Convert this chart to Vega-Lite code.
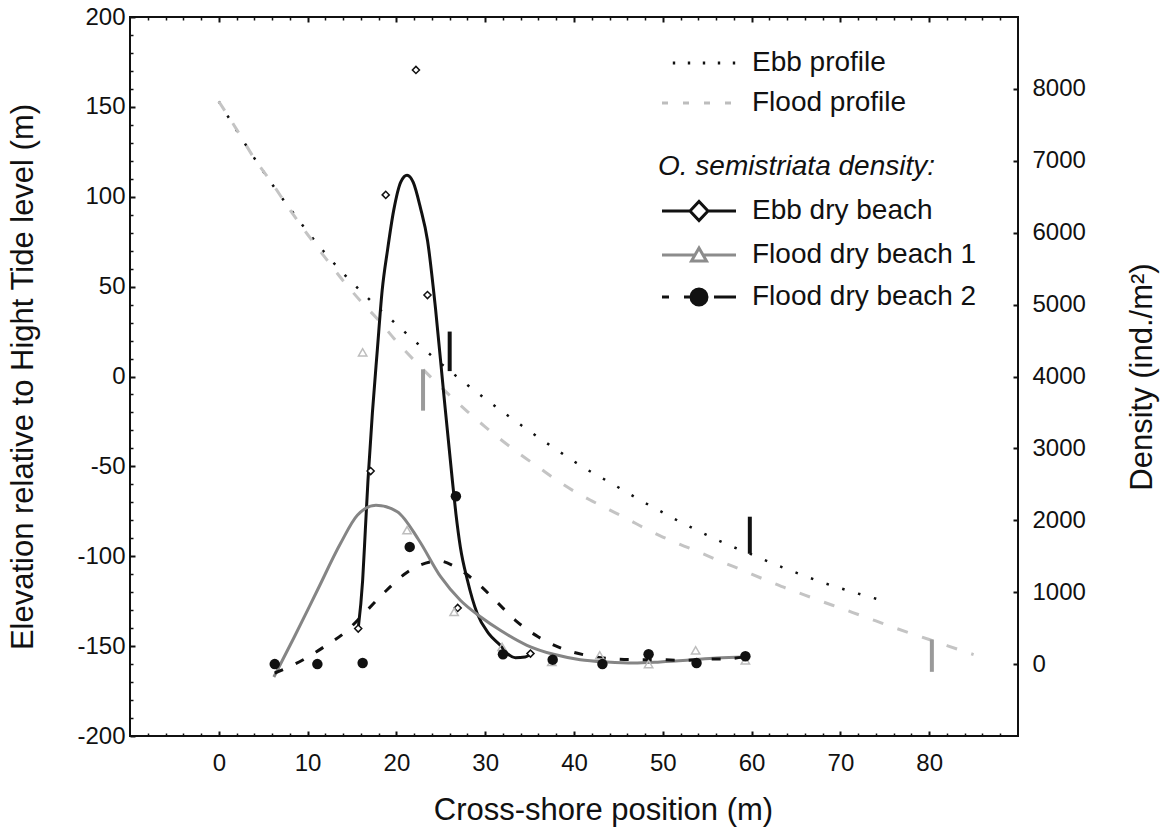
{
  "$schema": "https://vega.github.io/schema/vega-lite/v6.json",
  "width": 888,
  "height": 719,
  "autosize": {"type": "none"},
  "padding": {"left": 130, "top": 17, "right": 156, "bottom": 94},
  "background": "white",
  "config": {
    "font": "Liberation Sans",
    "view": {"stroke": "#111111", "strokeWidth": 2},
    "axis": {"grid": false, "domain": false, "tickColor": "#111111", "tickWidth": 2, "labelColor": "#111111", "titleColor": "#111111", "labelFont": "Liberation Sans", "titleFont": "Liberation Sans", "labelFontSize": 24, "titleFontSize": 31, "titleFontWeight": "normal"}
  },
  "datasets": {
    "ebbProfile": [
      {"x": 0, "e": 153}, {"x": 2, "e": 137}, {"x": 4, "e": 121.5}, {"x": 6, "e": 107}, {"x": 8, "e": 93.5}, {"x": 10, "e": 80.5}, {"x": 12, "e": 68.5}, {"x": 14, "e": 57.5}, {"x": 16, "e": 47.5}, {"x": 18, "e": 38}, {"x": 20, "e": 29}, {"x": 22, "e": 20}, {"x": 24, "e": 11.4}, {"x": 26, "e": 3.2}, {"x": 28, "e": -4.7}, {"x": 30, "e": -12.4}, {"x": 32, "e": -19.8}, {"x": 34, "e": -26.9}, {"x": 36, "e": -33.9}, {"x": 38, "e": -40.6}, {"x": 40, "e": -47.2}, {"x": 42, "e": -53.3}, {"x": 44, "e": -58.8}, {"x": 46, "e": -64.6}, {"x": 48, "e": -70.3}, {"x": 50, "e": -75.6}, {"x": 52, "e": -81}, {"x": 54, "e": -85.9}, {"x": 56, "e": -90.6}, {"x": 58, "e": -95}, {"x": 60, "e": -99}, {"x": 62, "e": -103.2}, {"x": 64, "e": -107.2}, {"x": 66, "e": -111}, {"x": 68, "e": -114.6}, {"x": 70, "e": -117.8}, {"x": 72, "e": -120.8}, {"x": 75, "e": -125}
    ],
    "floodProfile": [
      {"x": 0, "e": 153}, {"x": 2, "e": 137.5}, {"x": 4, "e": 121.3}, {"x": 6, "e": 107.5}, {"x": 8, "e": 92.8}, {"x": 10, "e": 79}, {"x": 12, "e": 66}, {"x": 14, "e": 53.3}, {"x": 16, "e": 41.8}, {"x": 18, "e": 31.3}, {"x": 20, "e": 19.6}, {"x": 22, "e": 9}, {"x": 24, "e": -1}, {"x": 26, "e": -10.5}, {"x": 28, "e": -19.5}, {"x": 30, "e": -28}, {"x": 32, "e": -36}, {"x": 34, "e": -43.5}, {"x": 36, "e": -50.5}, {"x": 38, "e": -57.5}, {"x": 40, "e": -63.8}, {"x": 42, "e": -69.2}, {"x": 44, "e": -74.2}, {"x": 46, "e": -79.2}, {"x": 48, "e": -84.5}, {"x": 50, "e": -89.3}, {"x": 52, "e": -93.5}, {"x": 54, "e": -97.5}, {"x": 56, "e": -101.8}, {"x": 58, "e": -105.8}, {"x": 60, "e": -110}, {"x": 62, "e": -114}, {"x": 64, "e": -118}, {"x": 66, "e": -121.6}, {"x": 68, "e": -125.3}, {"x": 70, "e": -128.8}, {"x": 72, "e": -132.4}, {"x": 74, "e": -136}, {"x": 76, "e": -139.6}, {"x": 78, "e": -143}, {"x": 80, "e": -146.3}, {"x": 82, "e": -149.7}, {"x": 85, "e": -154.7}
    ],
    "blackBars": [{"x": 26, "e1": 25, "e2": 3}, {"x": 59.8, "e1": -78, "e2": -98.6}],
    "grayBars": [{"x": 23, "e1": 4, "e2": -19}, {"x": 80.3, "e1": -146.3, "e2": -164.3}],
    "ebbCurve": [
      {"x": 15.7, "d": 494}, {"x": 16.2, "d": 1166}, {"x": 16.5, "d": 1862}, {"x": 16.8, "d": 2557}, {"x": 17.3, "d": 3500}, {"x": 17.85, "d": 4366}, {"x": 18.4, "d": 5200}, {"x": 19.0, "d": 5758}, {"x": 19.7, "d": 6314}, {"x": 20.5, "d": 6708}, {"x": 21.2, "d": 6800}, {"x": 21.9, "d": 6700}, {"x": 22.7, "d": 6350}, {"x": 23.5, "d": 5895}, {"x": 24.4, "d": 4950}, {"x": 25.3, "d": 3800}, {"x": 26.3, "d": 2557}, {"x": 26.7, "d": 2094}, {"x": 27.2, "d": 1630}, {"x": 28.0, "d": 1166}, {"x": 29.1, "d": 703}, {"x": 30.4, "d": 424}, {"x": 31.7, "d": 262}, {"x": 32.5, "d": 146}, {"x": 33.4, "d": 90}, {"x": 34.5, "d": 99}, {"x": 35.2, "d": 146}
    ],
    "flood1Curve": [
      {"x": 6.2, "d": -179}, {"x": 8.5, "d": 377}, {"x": 11.1, "d": 1027}, {"x": 13.7, "d": 1676}, {"x": 15.6, "d": 2070}, {"x": 17.7, "d": 2210}, {"x": 20.1, "d": 2120}, {"x": 22.5, "d": 1730}, {"x": 25.0, "d": 1212}, {"x": 27.2, "d": 888}, {"x": 29.5, "d": 655}, {"x": 31.7, "d": 470}, {"x": 34.7, "d": 262}, {"x": 37.7, "d": 136}, {"x": 40.7, "d": 62}, {"x": 43.7, "d": 30}, {"x": 46.7, "d": 15}, {"x": 49.7, "d": 30}, {"x": 52.7, "d": 53}, {"x": 56.1, "d": 85}, {"x": 59.3, "d": 99}
    ],
    "flood2Curve": [
      {"x": 6.3, "d": -124}, {"x": 9.4, "d": 53}, {"x": 12.0, "d": 252}, {"x": 14.4, "d": 461}, {"x": 16.7, "d": 749}, {"x": 18.9, "d": 1027}, {"x": 21.1, "d": 1268}, {"x": 23.8, "d": 1421}, {"x": 24.8, "d": 1435}, {"x": 26.5, "d": 1361}, {"x": 29.1, "d": 1129}, {"x": 31.2, "d": 878}, {"x": 33.4, "d": 609}, {"x": 36.0, "d": 377}, {"x": 38.7, "d": 216}, {"x": 41.4, "d": 122}, {"x": 44.1, "d": 76}, {"x": 46.7, "d": 62}, {"x": 49.5, "d": 62}, {"x": 52.2, "d": 53}, {"x": 54.8, "d": 67}, {"x": 57.4, "d": 76}, {"x": 59.3, "d": 100}
    ],
    "ebbPoints": [
      {"x": 15.7, "d": 494}, {"x": 17.1, "d": 2685}, {"x": 18.8, "d": 6526}, {"x": 22.2, "d": 8264}, {"x": 23.5, "d": 5133}, {"x": 26.9, "d": 781}, {"x": 35.1, "d": 146}
    ],
    "flood1Points": [
      {"x": 16.2, "d": 4337}, {"x": 21.2, "d": 1862}, {"x": 26.5, "d": 725}, {"x": 31.9, "d": 238}, {"x": 37.5, "d": 30}, {"x": 42.9, "d": 122}, {"x": 48.4, "d": 0}, {"x": 53.7, "d": 192}, {"x": 59.3, "d": 53}
    ],
    "flood2Points": [
      {"x": 6.3, "d": 0}, {"x": 11.1, "d": 0}, {"x": 16.2, "d": 15}, {"x": 21.5, "d": 1630}, {"x": 26.7, "d": 2335}, {"x": 32.0, "d": 136}, {"x": 37.6, "d": 62}, {"x": 43.2, "d": 0}, {"x": 48.4, "d": 136}, {"x": 53.8, "d": 15}, {"x": 59.3, "d": 109}
    ]
  },
  "layer": [
    {
      "data": {"name": "ebbProfile"},
      "mark": {"type": "line", "stroke": "#111111", "strokeWidth": 2.5, "strokeDash": [2.5, 14], "strokeCap": "butt", "interpolate": "monotone"},
      "encoding": {
        "x": {"field": "x", "type": "quantitative", "scale": {"domain": [-10, 90], "nice": false, "zero": false},
          "axis": {"orient": "bottom", "values": [0, 10, 20, 30, 40, 50, 60, 70, 80],
            "tickSize": -5, "labelExpr": "'' + datum.value",
            "labelPadding": 20, "labelOverlap": false, "labelFlush": false, "labelBound": false,
            "title": "Cross-shore position (m)", "titleX": 473, "titleY": 74, "titleAlign": "center", "titleBaseline": "middle"}},
        "y": {"field": "e", "type": "quantitative", "scale": {"domain": [-200, 200], "nice": false, "zero": false},
          "axis": {"orient": "left", "values": [-200, -150, -100, -50, 0, 50, 100, 150, 200],
            "tickSize": -5, "labelExpr": "'' + datum.value",
            "labelPadding": 10, "labelOverlap": false, "labelFlush": false, "labelBound": false,
            "title": "Elevation relative to Hight Tide level (m)", "titleX": -107, "titleY": 359.5, "titleAngle": 270, "titleAlign": "center", "titleBaseline": "middle"}}
      }
    },
    {
      "data": {"name": "floodProfile"},
      "mark": {"type": "line", "stroke": "#c4c4c4", "strokeWidth": 3, "strokeDash": [11, 15], "interpolate": "monotone"},
      "encoding": {
        "x": {"field": "x", "type": "quantitative", "scale": {"domain": [-10, 90], "nice": false, "zero": false},
          "axis": {"orient": "bottom", "values": [-8,-6,-4,-2,2,4,6,8,12,14,16,18,22,24,26,28,32,34,36,38,42,44,46,48,52,54,56,58,62,64,66,68,72,74,76,78,82,84,86,88],
            "tickSize": -3, "tickWidth": 1.5, "labels": false, "title": null}},
        "y": {"field": "e", "type": "quantitative", "scale": {"domain": [-200, 200], "nice": false, "zero": false},
          "axis": {"orient": "left", "values": [-190,-180,-170,-160,-140,-130,-120,-110,-90,-80,-70,-60,-40,-30,-20,-10,10,20,30,40,60,70,80,90,110,120,130,140,160,170,180,190],
            "tickSize": -3, "tickWidth": 1.5, "labels": false, "title": null}}
      }
    },
    {
      "data": {"name": "blackBars"},
      "mark": {"type": "rule", "stroke": "#111111", "strokeWidth": 4},
      "encoding": {
        "x": {"field": "x", "type": "quantitative", "scale": {"domain": [-10, 90], "nice": false, "zero": false}, "axis": null},
        "y": {"field": "e1", "type": "quantitative", "scale": {"domain": [-200, 200], "nice": false, "zero": false}, "axis": null},
        "y2": {"field": "e2"}
      }
    },
    {
      "data": {"name": "grayBars"},
      "mark": {"type": "rule", "stroke": "#9a9a9a", "strokeWidth": 4},
      "encoding": {
        "x": {"field": "x", "type": "quantitative", "scale": {"domain": [-10, 90], "nice": false, "zero": false}, "axis": null},
        "y": {"field": "e1", "type": "quantitative", "scale": {"domain": [-200, 200], "nice": false, "zero": false}, "axis": null},
        "y2": {"field": "e2"}
      }
    },
    {
      "data": {"name": "ebbCurve"},
      "mark": {"type": "line", "stroke": "#111111", "strokeWidth": 3, "interpolate": "monotone"},
      "encoding": {
        "x": {"field": "x", "type": "quantitative", "scale": {"domain": [-10, 90], "nice": false, "zero": false},
          "axis": {"orient": "top", "values": [0, 10, 20, 30, 40, 50, 60, 70, 80],
            "tickSize": -5, "labels": false, "title": null}},
        "y": {"field": "d", "type": "quantitative", "scale": {"domain": [-1000, 9000], "nice": false, "zero": false},
          "axis": {"orient": "right", "values": [0, 1000, 2000, 3000, 4000, 5000, 6000, 7000, 8000],
            "tickSize": -5, "labelExpr": "'' + datum.value", "labelPadding": 19, "labelOverlap": false, "labelFlush": false, "labelBound": false,
            "title": "Density (ind./m²)", "titleX": 124, "titleY": 359.5, "titleAngle": 270, "titleAlign": "center", "titleBaseline": "middle"}}
      }
    },
    {
      "data": {"name": "flood1Curve"},
      "mark": {"type": "line", "stroke": "#858585", "strokeWidth": 3, "interpolate": "monotone"},
      "encoding": {
        "x": {"field": "x", "type": "quantitative", "scale": {"domain": [-10, 90], "nice": false, "zero": false},
          "axis": {"orient": "top", "values": [-8,-6,-4,-2,2,4,6,8,12,14,16,18,22,24,26,28,32,34,36,38,42,44,46,48,52,54,56,58,62,64,66,68,72,74,76,78,82,84,86,88],
            "tickSize": -3, "tickWidth": 1.5, "labels": false, "title": null}},
        "y": {"field": "d", "type": "quantitative", "scale": {"domain": [-1000, 9000], "nice": false, "zero": false}, "axis": null}
      }
    },
    {
      "data": {"name": "flood2Curve"},
      "mark": {"type": "line", "stroke": "#111111", "strokeWidth": 3, "strokeDash": [9, 14], "interpolate": "monotone"},
      "encoding": {
        "x": {"field": "x", "type": "quantitative", "scale": {"domain": [-10, 90], "nice": false, "zero": false}, "axis": null},
        "y": {"field": "d", "type": "quantitative", "scale": {"domain": [-1000, 9000], "nice": false, "zero": false}, "axis": null}
      }
    },
    {
      "data": {"name": "ebbPoints"},
      "mark": {"type": "point", "shape": "diamond", "size": 50, "filled": true, "fill": "white", "stroke": "#111111", "strokeWidth": 1.5, "opacity": 1},
      "encoding": {
        "x": {"field": "x", "type": "quantitative", "scale": {"domain": [-10, 90], "nice": false, "zero": false}, "axis": null},
        "y": {"field": "d", "type": "quantitative", "scale": {"domain": [-1000, 9000], "nice": false, "zero": false}, "axis": null}
      }
    },
    {
      "data": {"name": "flood1Points"},
      "mark": {"type": "point", "shape": "triangle-up", "size": 70, "filled": false, "stroke": "#bdbdbd", "strokeWidth": 1.5, "opacity": 1},
      "encoding": {
        "x": {"field": "x", "type": "quantitative", "scale": {"domain": [-10, 90], "nice": false, "zero": false}, "axis": null},
        "y": {"field": "d", "type": "quantitative", "scale": {"domain": [-1000, 9000], "nice": false, "zero": false}, "axis": null}
      }
    },
    {
      "data": {"name": "flood2Points"},
      "mark": {"type": "point", "shape": "circle", "size": 110, "filled": true, "fill": "#111111", "opacity": 1},
      "encoding": {
        "x": {"field": "x", "type": "quantitative", "scale": {"domain": [-10, 90], "nice": false, "zero": false}, "axis": null},
        "y": {"field": "d", "type": "quantitative", "scale": {"domain": [-1000, 9000], "nice": false, "zero": false}, "axis": null}
      }
    },
    {
      "data": {"values": [{"p": "Ebb profile"}, {"p": "Flood profile"}]},
      "transform": [{"filter": "false"}],
      "mark": {"type": "point", "filled": true, "opacity": 1, "strokeWidth": 3},
      "encoding": {
        "shape": {"field": "p", "type": "nominal",
          "scale": {"domain": ["Ebb profile", "Flood profile"], "range": ["M0.08,0H0.32M1.58,0H1.82M3.08,0H3.32M4.58,0H4.82M6.08,0H6.32", "M-1,0H-0.4M1.1,0H1.7M3.2,0H3.8M5.3,0H5.9"]},
          "legend": {"orient": "none", "legendX": 528, "legendY": 32, "title": null, "symbolSize": 400, "symbolStrokeWidth": 3, "symbolOpacity": 1, "labelFontSize": 28, "labelFont": "Liberation Sans", "labelColor": "#111111", "labelLimit": 500, "labelOffset": 66, "rowPadding": 12, "padding": 0}},
        "stroke": {"field": "p", "type": "nominal",
          "scale": {"domain": ["Ebb profile", "Flood profile"], "range": ["#111111", "#bdbdbd"]},
          "legend": {"orient": "none", "legendX": 528, "legendY": 32, "title": null, "symbolSize": 400, "symbolStrokeWidth": 3, "symbolOpacity": 1, "labelFontSize": 28, "labelFont": "Liberation Sans", "labelColor": "#111111", "labelLimit": 500, "labelOffset": 66, "rowPadding": 12, "padding": 0}},
        "fill": {"field": "p", "type": "nominal",
          "scale": {"domain": ["Ebb profile", "Flood profile"], "range": ["transparent", "transparent"]},
          "legend": {"orient": "none", "legendX": 528, "legendY": 32, "title": null, "symbolSize": 400, "symbolStrokeWidth": 3, "symbolOpacity": 1, "labelFontSize": 28, "labelFont": "Liberation Sans", "labelColor": "#111111", "labelLimit": 500, "labelOffset": 66, "rowPadding": 12, "padding": 0}}
      }
    },
    {
      "data": {"values": [{"s": "Ebb dry beach"}, {"s": "Flood dry beach 1"}, {"s": "Flood dry beach 2"}]},
      "transform": [{"filter": "false"}],
      "mark": {"type": "point", "filled": true, "opacity": 1, "strokeWidth": 3},
      "encoding": {
        "shape": {"field": "s", "type": "nominal",
          "scale": {"domain": ["Ebb dry beach", "Flood dry beach 1", "Flood dry beach 2"], "range": ["M-1,0H1.8M3.6,0H6.4M1.8,0L2.7,-0.95L3.6,0L2.7,0.95Z", "M-1,0H2.28M3.12,0H6.4M1.95,0.6L2.7,-0.7L3.45,0.6Z", "M-1,0H-0.3M1.2,0H1.9M4.2,0H6.4M3.5,0A0.8,0.8 0 1,1 1.9,0A0.8,0.8 0 1,1 3.5,0Z"]},
          "legend": {"orient": "none", "legendX": 528, "legendY": 136, "title": "O. semistriata density:", "titleFontStyle": "italic", "titleFontWeight": "normal", "titleFontSize": 28, "titleFont": "Liberation Sans", "titleColor": "#111111", "titleLimit": 600, "titlePadding": 16, "symbolSize": 400, "symbolStrokeWidth": 3, "symbolOpacity": 1, "labelFontSize": 28, "labelFont": "Liberation Sans", "labelColor": "#111111", "labelLimit": 500, "labelOffset": 66, "rowPadding": 14, "padding": 0}},
        "stroke": {"field": "s", "type": "nominal",
          "scale": {"domain": ["Ebb dry beach", "Flood dry beach 1", "Flood dry beach 2"], "range": ["#111111", "#8c8c8c", "#111111"]},
          "legend": {"orient": "none", "legendX": 528, "legendY": 136, "title": "O. semistriata density:", "titleFontStyle": "italic", "titleFontWeight": "normal", "titleFontSize": 28, "titleFont": "Liberation Sans", "titleColor": "#111111", "titleLimit": 600, "titlePadding": 16, "symbolSize": 400, "symbolStrokeWidth": 3, "symbolOpacity": 1, "labelFontSize": 28, "labelFont": "Liberation Sans", "labelColor": "#111111", "labelLimit": 500, "labelOffset": 66, "rowPadding": 14, "padding": 0}},
        "fill": {"field": "s", "type": "nominal",
          "scale": {"domain": ["Ebb dry beach", "Flood dry beach 1", "Flood dry beach 2"], "range": ["#ffffff", "#ffffff", "#111111"]},
          "legend": {"orient": "none", "legendX": 528, "legendY": 136, "title": "O. semistriata density:", "titleFontStyle": "italic", "titleFontWeight": "normal", "titleFontSize": 28, "titleFont": "Liberation Sans", "titleColor": "#111111", "titleLimit": 600, "titlePadding": 16, "symbolSize": 400, "symbolStrokeWidth": 3, "symbolOpacity": 1, "labelFontSize": 28, "labelFont": "Liberation Sans", "labelColor": "#111111", "labelLimit": 500, "labelOffset": 66, "rowPadding": 14, "padding": 0}}
      }
    }
  ],
  "resolve": {
    "scale": {"y": "independent", "shape": "independent", "stroke": "independent", "fill": "independent"},
    "axis": {"x": "independent"}
  }
}
